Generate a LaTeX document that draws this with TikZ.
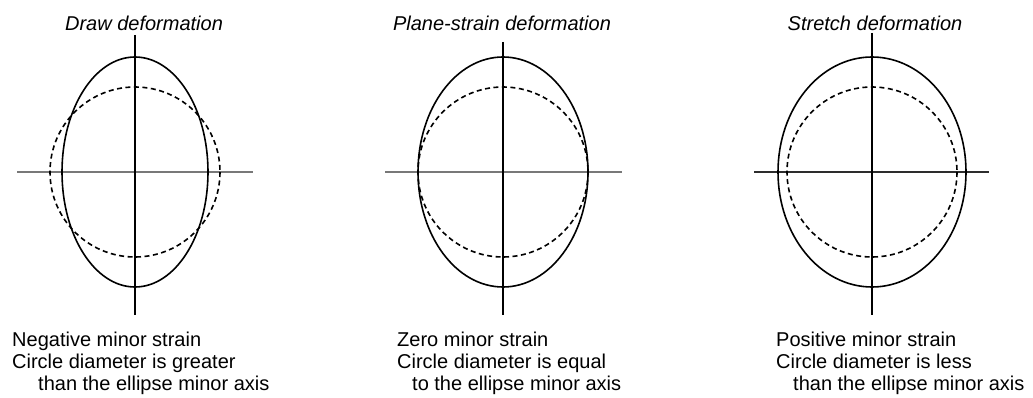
\documentclass[tikz,border=0pt]{standalone}
\usepackage{fontspec}
\setmainfont{Liberation Sans}
\usetikzlibrary{positioning}
\definecolor{axisgray}{RGB}{120,120,120}
\definecolor{axisdark}{RGB}{45,45,45}

\tikzset{
  axisline/.style={line width=1.6pt},
  majorell/.style={draw=black,line width=1.6pt},
  minorcirc/.style={draw=black,line width=1.6pt,dash pattern=on 5pt off 3.5pt},
  paneltitle/.style={font=\fontsize{20}{24}\selectfont\itshape,anchor=base},
  caption/.style={font=\fontsize{20}{22}\selectfont,align=left,anchor=base west,inner sep=0pt}
}

\begin{document}
\begin{tikzpicture}[x=1pt,y=-1pt]
  \useasboundingbox (0,0) rectangle (1033,398);
  % panel centre / ellipse x radius / axis ends / axis colour
  \foreach \n/\cx/\ex/\hl/\hr/\vt/\ax in {1/135/73/17/253/35/axisgray,
      2/503/85/385/622/42/axisgray, 3/872/94/754/989/33/axisdark} {
    \coordinate (o\n) at (\cx,172);
    \coordinate (l\n) at (\hl,172);
    \coordinate (r\n) at (\hr,172);
    \coordinate (u\n) at (\cx,\vt);
    \coordinate (d\n) at (\cx,315);
    \draw[axisline,\ax] (l\n) -- (r\n);
    \draw[axisline,black] (u\n) -- (d\n);
    \draw[majorell] (o\n) ellipse [x radius=\ex, y radius=115];
    \draw[minorcirc] (o\n) circle [radius=85];
  }
  \node[paneltitle] (t1) at (144,31) {Draw deformation};
  \node[paneltitle] (t2) at (502,31) {Plane-strain deformation};
  \node[paneltitle] (t3) at (875,31) {Stretch deformation};
  \node[caption] (c1) at (12,390) {Negative minor strain\\Circle diameter is greater\\\hspace*{26pt}than the ellipse minor axis};
  \node[caption] (c2) at (397,390) {Zero minor strain\\Circle diameter is equal\\\hspace*{15pt}to the ellipse minor axis};
  \node[caption] (c3) at (776,390) {Positive minor strain\\Circle diameter is less\\\hspace*{17pt}than the ellipse minor axis};
\end{tikzpicture}
\end{document}
